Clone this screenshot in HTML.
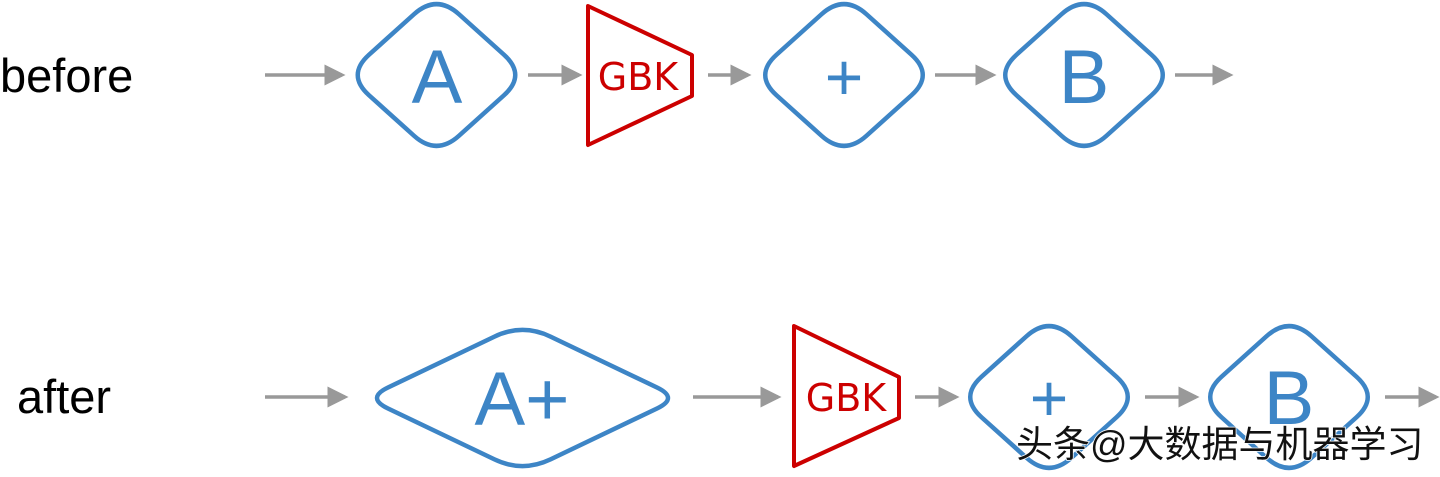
<!DOCTYPE html>
<html><head><meta charset="utf-8"><style>
html,body{margin:0;padding:0;background:#fff;width:1440px;height:477px;overflow:hidden}
svg{display:block}
</style></head><body>
<svg width="1440" height="477" viewBox="0 0 1440 477" xmlns="http://www.w3.org/2000/svg">
<defs>
<path id="dm" d="M -67.5 -20.25 L -22.5 -60.75 Q 0 -81 22.5 -60.75 L 67.5 -20.25 Q 90 0 67.5 20.25 L 22.5 60.75 Q 0 81 -22.5 60.75 L -67.5 20.25 Q -90 0 -67.5 -20.25 Z"/>
<path id="dw" d="M -134.5 -10.5 L -28 -61.4 Q 0 -74.75 28 -61.4 L 134.5 -10.5 Q 156.5 0 134.5 10.5 L 28 61.4 Q 0 74.75 -28 61.4 L -134.5 10.5 Q -156.5 0 -134.5 -10.5 Z"/>
<marker id="ah" markerWidth="6" markerHeight="6" refX="5" refY="3" orient="auto" markerUnits="strokeWidth"><path d="M0,0 L6,3 L0,6 Z" fill="#999"/></marker>
</defs>
<g font-family="Liberation Sans, sans-serif">
<text x="0" y="92" font-size="47" fill="#000">before</text>
<text x="17" y="413" font-size="47" fill="#000">after</text>
</g>
<g stroke="#999" stroke-width="3.5" fill="none">
<line x1="265" y1="75" x2="342" y2="75" marker-end="url(#ah)"/>
<line x1="528" y1="75" x2="579" y2="75" marker-end="url(#ah)"/>
<line x1="708" y1="75" x2="748" y2="75" marker-end="url(#ah)"/>
<line x1="935" y1="75" x2="993" y2="75" marker-end="url(#ah)"/>
<line x1="1175" y1="75" x2="1230" y2="75" marker-end="url(#ah)"/>
<line x1="265" y1="397" x2="345" y2="397" marker-end="url(#ah)"/>
<line x1="693" y1="397" x2="778" y2="397" marker-end="url(#ah)"/>
<line x1="915" y1="397" x2="956" y2="397" marker-end="url(#ah)"/>
<line x1="1145" y1="397" x2="1196" y2="397" marker-end="url(#ah)"/>
<line x1="1385" y1="397" x2="1436" y2="397" marker-end="url(#ah)"/>
</g>
<g fill="none" stroke="#3d85c6" stroke-width="4.5">
<use href="#dm" transform="translate(436.5,75)"/>
<use href="#dm" transform="translate(844,75)"/>
<use href="#dm" transform="translate(1084,75)"/>
<use href="#dw" transform="translate(522.5,398)"/>
<use href="#dm" transform="translate(1049,397)"/>
<use href="#dm" transform="translate(1289,397)"/>
</g>
<g fill="none" stroke="#cc0000" stroke-width="4" stroke-linejoin="round">
<polygon points="588,6 692,55 692,96 588,145"/>
<polygon points="794,326 899,377 899,418 794,466"/>
</g>
<g font-family="Liberation Sans, sans-serif" fill="#3d85c6" text-anchor="middle">
<text x="437" y="103" font-size="76">A</text>
<text x="844" y="100" font-size="66">+</text>
<text x="1084" y="103" font-size="76">B</text>
<text x="522" y="425" font-size="76">A+</text>
<text x="1049" y="421" font-size="66">+</text>
<text x="1289" y="424" font-size="76">B</text>
</g>
<g font-family="DejaVu Sans, sans-serif" fill="#cc0000" text-anchor="middle" font-size="38">
<text x="638" y="90">GBK</text>
<text x="846" y="411">GBK</text>
</g>
<text x="1016" y="457" font-family="Liberation Sans, 'Noto Sans CJK SC', sans-serif" font-size="37" fill="#111" stroke="#fff" stroke-width="1.5" paint-order="stroke">头条@大数据与机器学习</text>
</svg>
</body></html>
